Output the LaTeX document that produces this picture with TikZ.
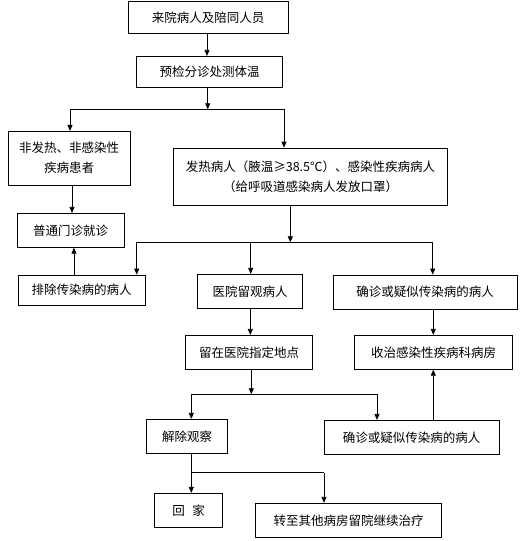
\documentclass[tikz,border=0pt]{standalone}
\usepackage{fontspec}
\setmainfont{Noto Sans CJK SC}
\usetikzlibrary{arrows.meta}
\begin{document}
\begin{tikzpicture}[x=1pt,y=-1pt,
  box/.style={draw,line width=0.8pt,inner sep=0pt,align=center,font=\fontsize{12.5}{20}\selectfont},
  arr/.style={line width=0.8pt,-{Triangle[length=6pt,width=5pt]}},
  ln/.style={line width=0.8pt}]
\useasboundingbox (0,0) rectangle (525,541);
\node[box,minimum width=160pt,minimum height=32pt] (b1) at (208,17.3) {来院病人及陪同人员};
\node[box,minimum width=145.6pt,minimum height=31pt] (b2) at (209.5,71.8) {预检分诊处测体温};
\node[box,minimum width=121.7pt,minimum height=53.7pt] (b3) at (69.2,158.2) {非发热、非感染性\\疾病患者};
\node[box,minimum width=273.6pt,minimum height=57.3pt] (b4) at (310.5,176.7) {发热病人（腋温≥38.5℃）、感染性疾病病人\\（给呼吸道感染病人发放口罩）};
\node[box,minimum width=106.7pt,minimum height=34pt] (b5) at (70.7,230.3) {普通门诊就诊};
\node[box,minimum width=126.7pt,minimum height=30.3pt] (b6) at (81.7,290.2) {排除传染病的病人};
\node[box,minimum width=104.6pt,minimum height=34pt] (b7) at (250,291.3) {医院留观病人};
\node[box,minimum width=184.3pt,minimum height=34.3pt] (b8) at (425.2,292.2) {确诊或疑似传染病的病人};
\node[box,minimum width=126.6pt,minimum height=34pt] (b9) at (249,352.3) {留在医院指定地点};
\node[box,minimum width=157.6pt,minimum height=34pt] (b10) at (433.5,352.3) {收治感染性疾病科病房};
\node[box,minimum width=81pt,minimum height=34pt] (b11) at (187.2,436.3) {解除观察};
\node[box,minimum width=175.3pt,minimum height=34pt] (b12) at (411.7,437.3) {确诊或疑似传染病的病人};
\node[box,minimum width=68pt,minimum height=34pt] (b13) at (188.7,510.3) {回\hspace{0.6em}家};
\node[box,minimum width=186pt,minimum height=34pt] (b14) at (348.7,520.3) {转至其他病房留院继续治疗};
% junction coordinates
\coordinate (j1) at (207.7,109.3);
\coordinate (j1l) at (70,109.3);
\coordinate (j1r) at (284,109.3);
\coordinate (j2) at (290.3,242.3);
\coordinate (j2l) at (136.7,242.3);
\coordinate (j2m) at (250.7,242.3);
\coordinate (j2r) at (432.7,242.3);
\coordinate (j3) at (251.3,394.3);
\coordinate (j3l) at (191.3,394.3);
\coordinate (j3r) at (377,394.3);
\coordinate (j4) at (191.3,472.7);
\coordinate (j4r) at (324,472.7);
% connectors
\draw[arr] (b1.south -| 207,0) -- (b2.north -| 207,0);
\draw[arr] (b2.south -| j1) -- (j1);
\draw[ln] (j1l) -- (j1r);
\draw[arr] (j1l) -- (j1l |- b3.north);
\draw[arr] (j1r) -- (j1r |- b4.north);
\draw[arr] (b3.south -| 72,0) -- (b5.north -| 72,0);
\draw[arr] (b6.north -| 74,0) -- (b5.south -| 74,0);
\draw[arr] (b4.south -| j2) -- (j2);
\draw[ln] (j2l) -- (j2r);
\draw[arr] (j2l) -- (j2l |- b6.north);
\draw[arr] (j2m) -- (j2m |- b7.north);
\draw[arr] (j2r) -- (j2r |- b8.north);
\draw[arr] (b7.south -| 250.3,0) -- (b9.north -| 250.3,0);
\draw[arr] (b8.south -| 433.3,0) -- (b10.north -| 433.3,0);
\draw[arr] (b9.south -| j3) -- (j3);
\draw[ln] (j3l) -- (j3r);
\draw[arr] (j3l) -- (j3l |- b11.north);
\draw[arr] (j3r) -- (j3r |- b12.north);
\draw[arr] (b12.north -| 433.3,0) -- (b10.south -| 433.3,0);
\draw[arr] (b11.south -| j4) -- (j4 |- b13.north);
\draw[ln] (j4) -- (j4r);
\draw[arr] (j4r) -- (j4r |- b14.north);
\end{tikzpicture}
\end{document}
